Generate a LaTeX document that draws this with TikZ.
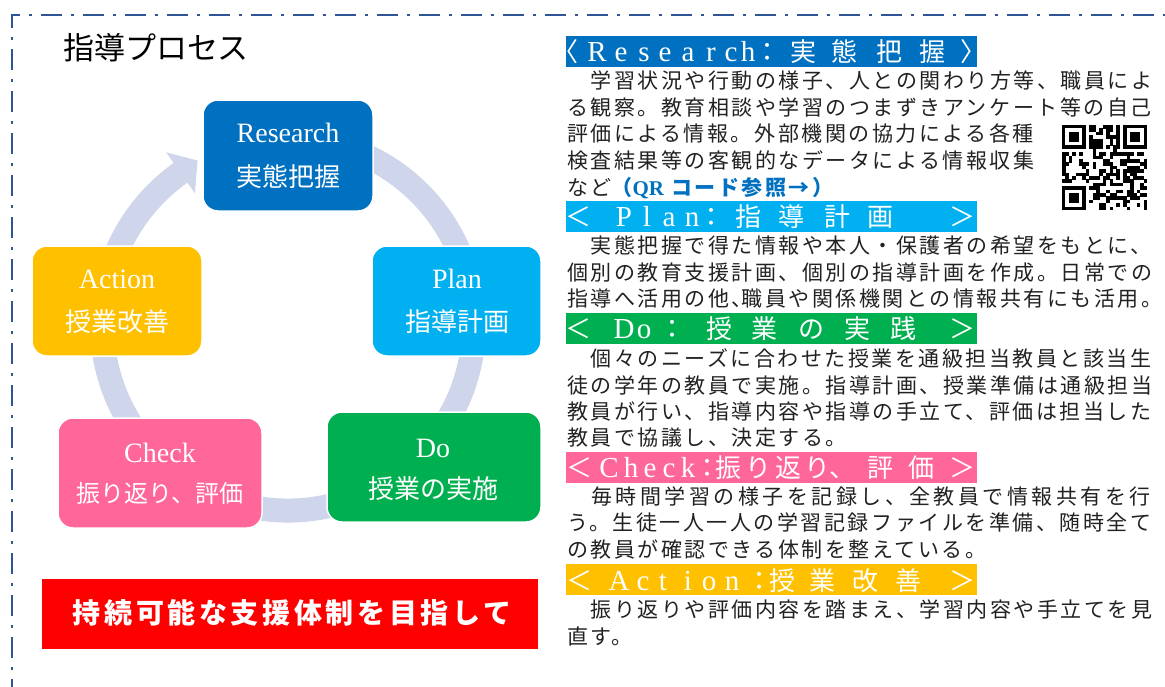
\documentclass[tikz,border=0pt]{standalone}
\usepackage{fontspec}
\setmainfont{Noto Sans CJK JP}
\newfontfamily\latf{Liberation Serif}
\newfontfamily\bodyf[LetterSpace=12]{Noto Sans CJK JP}
\newfontfamily\bodyfw[LetterSpace=16.5]{Noto Sans CJK JP}
\newfontfamily\banf[LetterSpace=13]{Noto Sans CJK JP}
\definecolor{rblue}{HTML}{0070C0}
\definecolor{pblue}{HTML}{00B0F0}
\definecolor{dgreen}{HTML}{00B050}
\definecolor{cpink}{HTML}{FF6699}
\definecolor{aorange}{HTML}{FFC000}
\definecolor{ringc}{HTML}{CFD5EA}
\definecolor{framec}{HTML}{2F5597}
\definecolor{bodyc}{HTML}{222222}
\begin{document}
\begin{tikzpicture}[x=1pt,y=-1pt,
  every node/.style={inner sep=0pt, outer sep=0pt},
  box/.style={draw=white, line width=1.5pt, rounded corners=15pt},
  boxlat/.style={anchor=base, text=white, font=\latf\fontsize{28}{28}\selectfont},
  boxjp/.style={anchor=base, text=white, font=\fontsize{26}{26}\selectfont},
  band/.style={anchor=north west, minimum width=411pt, minimum height=31pt},
  hl/.style={anchor=base, text=white, font=\latf\fontsize{29}{29}\selectfont},
  hj/.style={anchor=base, text=white, font=\fontsize{26}{26}\selectfont},
  body/.style={anchor=base west, text=bodyc, font=\bodyf\fontsize{21}{21}\selectfont},
  ring/.style={ringc, line width=24pt},
  framestyle/.style={framec, line width=2.5pt, dash pattern=on 21pt off 9pt on 3pt off 9pt}
]
\useasboundingbox (0,0) rectangle (1165,686);
\fill[white] (0,0) rectangle (1165,686);

% frame
\coordinate (fbl) at (12,700);
\coordinate (ftl) at (12,15);
\coordinate (ftr) at (1180,15);
\draw[framestyle] (fbl) -- (ftl) -- (ftr);

% title
\node[anchor=base west, font=\fontsize{31}{31}\selectfont] (title) at (63,59) {指導プロセス};

% cycle ring
\draw[ring] plot[domain=80:-235.0, samples=160] ({288+186*cos(\x)},{324.6-186*sin(\x)});
\coordinate (aw1) at (166.1,152.4);
\coordinate (aw2) at (194.9,193.2);
\coordinate (atip) at (197.5,160.5);
\fill[ringc] (aw1) -- (atip) -- (aw2) -- cycle;

% boxes
\node[box, fill=rblue, minimum width=170pt, minimum height=111pt] (res) at (288,155.5) {};
\node[box, fill=pblue, minimum width=169pt, minimum height=110pt] (plan) at (456.5,301) {};
\node[box, fill=aorange, minimum width=170pt, minimum height=110pt] (act) at (117,301) {};
\node[box, fill=cpink, minimum width=204pt, minimum height=110pt] (chk) at (160,473) {};
\node[box, fill=dgreen, minimum width=214pt, minimum height=110pt] (do) at (434,467) {};

\node[boxlat] (resA) at (288,142) {Research};
\node[boxjp] (resB) at (288,186) {実態把握};
\node[boxlat] (planA) at (457,288) {Plan};
\node[boxjp] (planB) at (457,331) {指導計画};
\node[boxlat] (actA) at (117,288) {Action};
\node[boxjp] (actB) at (117,331) {授業改善};
\node[boxlat] (chkA) at (160,462) {Check};
\node[boxjp, font=\fontsize{24}{24}\selectfont] (chkB) at (160,502) {振り返り、評価};
\node[boxlat] (doA) at (433,457) {Do};
\node[boxjp] (doB) at (433,498) {授業の実施};

% red banner
\node[fill=red, anchor=north west, minimum width=496pt, minimum height=70pt] (ban) at (42,579) {};
\node[anchor=base, text=white, font=\banf\bfseries\fontsize{28}{28}\selectfont] (bant) at (292,623) {持続可能な支援体制を目指して};

% header bands
\node[band, fill=rblue] (bandA) at (566,36) {};
\node[band, fill=pblue] (bandB) at (566,201) {};
\node[band, fill=dgreen] (bandC) at (566,313) {};
\node[band, fill=cpink] (bandD) at (566,452) {};
\node[band, fill=aorange] (bandE) at (566,564) {};

% header 1
\foreach \px/\ch in {565/〈,767/：,803/実,844/態,889/把,932/握,973/〉}
  \node[hj] (hAj\px) at (\px,61) {\ch};
\foreach \px/\ch in {597/R,621/e,644/s,665/e,688/a,711/r,731/c,748/h}
  \node[hl] (hAl\px) at (\px,61) {\ch};
% header 2
\foreach \px/\ch in {578/＜,711/：,748/指,791/導,837/計,880/画,962/＞}
  \node[hj] (hBj\px) at (\px,226) {\ch};
\foreach \px/\ch in {624/P,647/l,669/a,692/n}
  \node[hl] (hBl\px) at (\px,226) {\ch};
% header 3
\foreach \px/\ch in {578/＜,672/：,719/授,764/業,811/の,857/実,903/践,962/＞}
  \node[hj] (hCj\px) at (\px,338) {\ch};
\foreach \px/\ch in {624/D,644/o}
  \node[hl] (hCl\px) at (\px,338) {\ch};
% header 4
\foreach \px/\ch in {579/＜,707/：,728/振,758/り,788/返,817/り,842/、,880/評,921/価,962/＞}
  \node[hj] (hDj\px) at (\px,477) {\ch};
\foreach \px/\ch in {609/C,631/h,650/e,669/c,688/k}
  \node[hl] (hDl\px) at (\px,477) {\ch};
% header 5
\foreach \px/\ch in {579/＜,759/：,782/授,822/業,865/改,908/善,962/＞}
  \node[hj] (hEj\px) at (\px,590) {\ch};
\foreach \px/\ch in {619/A,643/c,663/t,688/i,709/o,732/n}
  \node[hl] (hEl\px) at (\px,590) {\ch};

% body text
\node[body] (a1) at (567,88) {　学習状況や行動の様子、人との関わり方等、職員によ};
\node[body] (a2) at (567,115) {る観察。教育相談や学習のつまずきアンケート等の自己};
\node[body] (a3) at (567,141) {評価による情報。外部機関の協力による各種};
\node[body] (a4) at (567,168) {検査結果等の客観的なデータによる情報収集};
\node[body] (a5) at (567,195) {など{\color{rblue}\bfseries （{\latf QR} コード参照→）}};

\node[body] (b1) at (567,253) {　実態把握で得た情報や本人・保護者の希望をもとに、};
\node[body] (b2) at (567,280) {個別の教育支援計画、個別の指導計画を作成。日常での};
\node[body] (b3) at (567,306) {指導へ活用の他、\kern-11pt職員や関係機関との情報共有にも活用。};

\node[body] (c1) at (567,366) {　個々のニーズに合わせた授業を通級担当教員と該当生};
\node[body] (c2) at (567,393) {徒の学年の教員で実施。指導計画、授業準備は通級担当};
\node[body] (c3) at (567,419) {教員が行い、指導内容や指導の手立て、評価は担当した};
\node[body] (c4) at (567,445) {教員で協議し、決定する。};

\node[body, font=\bodyfw\fontsize{21}{21}\selectfont] (d1) at (567,504) {　毎時間学習の様子を記録し、全教員で情報共有を行};
\node[body] (d2) at (567,530) {う。生徒一人一人の学習記録ファイルを準備、随時全て};
\node[body] (d3) at (567,557) {の教員が確認できる体制を整えている。};

\node[body] (e1) at (567,617) {　振り返りや評価内容を踏まえ、学習内容や手立てを見};
\node[body] (e2) at (567,644) {直す。};

% QR code
\begin{scope}[shift={(1062,125)}]
  \pgfmathsetseed{4242}
  \foreach \i in {0,...,24}{
    \foreach \j in {0,...,24}{
      \pgfmathtruncatemacro\qskip{((\i<8)&&(\j<8))||((\i>16)&&(\j<8))||((\i<8)&&(\j>16))}
      \pgfmathtruncatemacro\qon{rnd<0.5}
      \ifnum\qskip=0 \ifnum\qon=1
        \fill[black] (\i*3.4,\j*3.4) rectangle ++(3.5,3.5);
      \fi\fi
    }
  }
  \foreach \ox/\oy in {0/0,18/0,0/18}{
    \fill[black] (\ox*3.4,\oy*3.4) rectangle ++(23.8,23.8);
    \fill[white] (\ox*3.4+3.4,\oy*3.4+3.4) rectangle ++(17,17);
    \fill[black] (\ox*3.4+6.8,\oy*3.4+6.8) rectangle ++(10.2,10.2);
  }
\end{scope}
\end{tikzpicture}
\end{document}
